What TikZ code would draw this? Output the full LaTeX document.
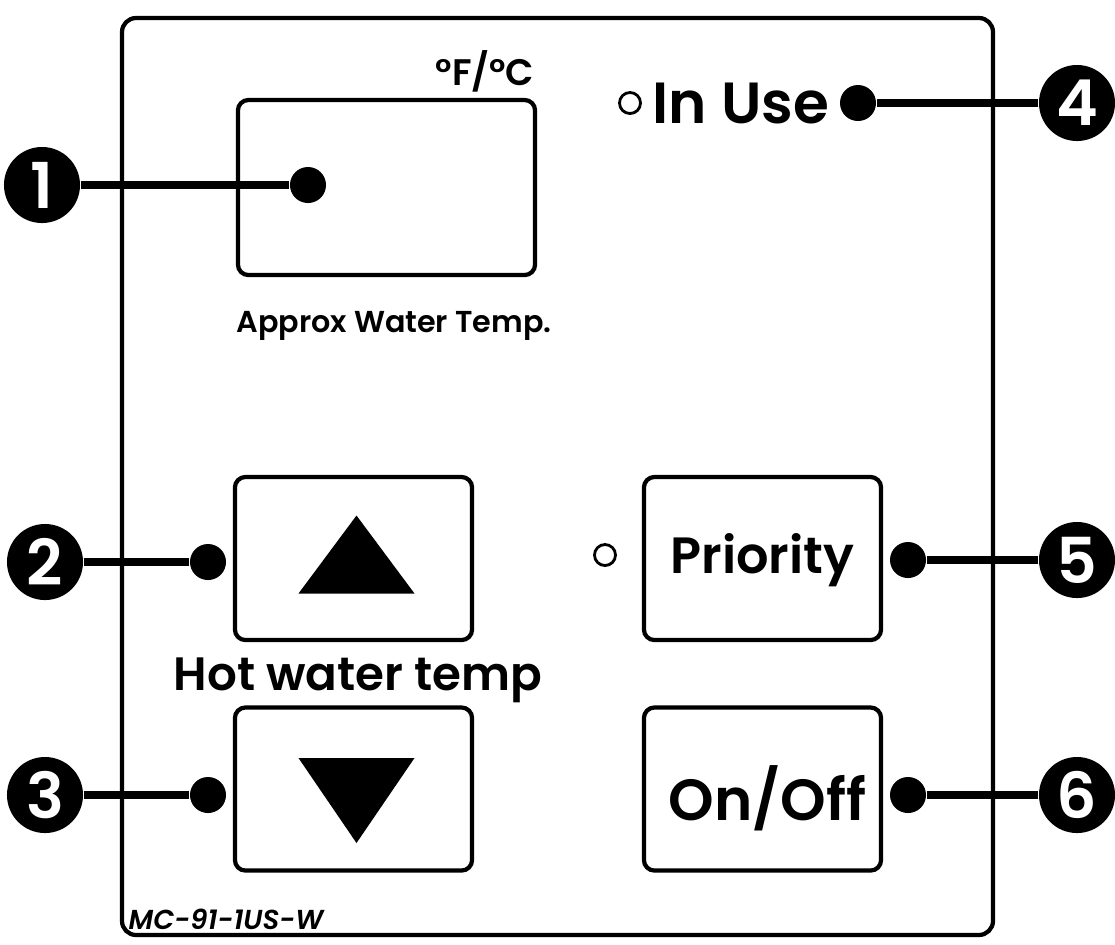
\documentclass[tikz,border=0pt]{standalone}
\usepackage{fontspec}
\setmainfont{Poppins}[BoldFont={Poppins SemiBold},BoldItalicFont={Poppins SemiBold Italic}]
\usetikzlibrary{calc,positioning}

\tikzset{
  keybox/.style={draw,line width=1.2pt,rounded corners=3pt,minimum width=2.37cm,minimum height=1.63cm},
  pin/.style={circle,fill,inner sep=0pt,minimum size=0.36cm},
  badge/.style={circle,fill,text=white,inner sep=0pt,minimum size=0.76cm,font=\bfseries\fontsize{18}{18}\selectfont},
  lead/.style={line width=2.1pt},
  led/.style={circle,draw,line width=0.8pt,inner sep=0pt,minimum size=0.21cm},
  lbl/.style={inner sep=0pt,font=\bfseries\fontsize{#1}{#1}\selectfont}
}

\begin{document}
\begin{tikzpicture}[x=0.01cm,y=-0.01cm]
        \useasboundingbox (0,0) rectangle (1115,944);
        \draw[line width=1.2pt,rounded corners=4pt] (122,18) rectangle (993,935);
        \node[keybox,minimum width=2.97cm,minimum height=1.75cm] (disp) at (386.5,187.5) {};
        \node[lbl=10.5,anchor=south east] (unit) at (535,93) {°F/°C};
        \node[lbl=8.6] (approx) at (394,326) {Approx Water Temp.};
        \node[led] (useled) at (630,103) {};
        \node[lbl=16.5,anchor=west] (inuse) at (652,103) {In Use};
        \node[keybox] (up) at (353.5,558.5) {};
        \node[keybox] (down) at (353.5,789) {};
        \node[keybox] (prio) at (762.5,558.5) {};
        \node[keybox] (onoff) at (762.5,789) {};
        \node[lbl=14.5] at ($(prio)+(0,2)$) {Priority};
        \node[lbl=16.5] at ($(onoff)+(5,9)$) {On/Off};
        \node[led] (prioled) at (605,555) {};
        \node[lbl=13.3] (hot) at (358,680) {Hot water temp};
        \node[anchor=south west,inner sep=0pt,font=\bfseries\itshape\fontsize{7.8}{8}\selectfont] (model) at (128,930) {MC-91-1US-W};
        \fill ($(up)+(3,-43)$) -- ($(up)+(61,35)$) -- ($(up)+(-55,35)$) -- cycle;
        \fill ($(down)+(3,54)$) -- ($(down)+(61,-31)$) -- ($(down)+(-55,-31)$) -- cycle;
        \node[pin] (d1) at (308,185) {};
        \node[pin] (d2) at (208,562) {};
        \node[pin] (d3) at (208,795) {};
        \node[pin] (d4) at (858,103) {};
        \node[pin] (d5) at (908,560) {};
        \node[pin] (d6) at (908,795) {};
        \node[badge] (n1) at (42,185) {1};
        \node[badge] (n2) at (45,562) {2};
        \node[badge] (n3) at (45,795) {3};
        \node[badge] (n4) at (1077,103) {4};
        \node[badge] (n5) at (1077,560) {5};
        \node[badge] (n6) at (1077,795) {6};
        \foreach \i in {1,...,6}{\draw[lead] (n\i) -- (d\i);}
      \end{tikzpicture}
\end{document}
